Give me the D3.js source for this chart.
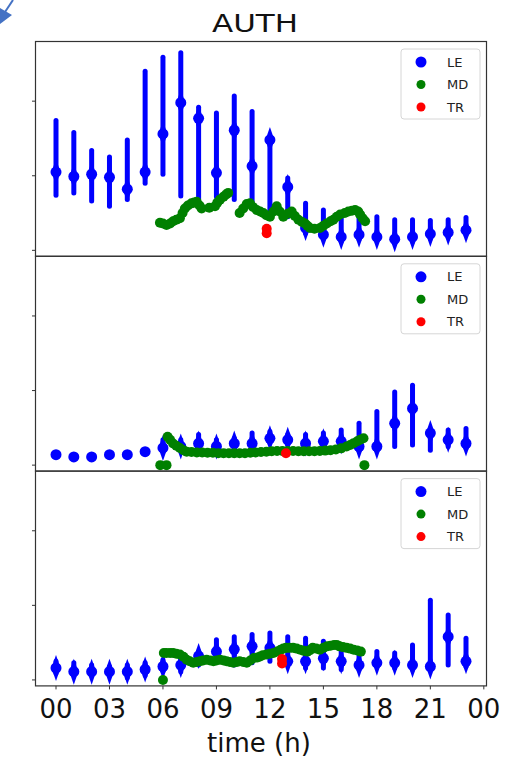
<!DOCTYPE html>
<html>
<head>
<meta charset="utf-8">
<script src="https://cdn.jsdelivr.net/npm/d3@7"></script>
<style>
body { margin: 0; background: #fff; }
svg { display: block; }
</style>
</head>
<body>
<svg id="chart"></svg>
<script>
var width = 525, height = 764;

var hours = d3.range(24);
var xTicks = [0, 3, 6, 9, 12, 15, 18, 21, 24];
var yTicks = [0, 100, 200];
var seriesNames = ['LE', 'MD', 'TR'];
var seriesColors = ['#0000ff', '#008000', '#ff0000'];

// LE spread per hour (low, high, central value), one set per panel
var leLo1 = [74, 77, 66, 59, 68, 90, 102, 73, 68, 72, 68, 59, 50, 45, 23, 16, 12, 15, 13, 10, 12, 16, 18, 21];
var leHi1 = [174, 158, 134, 125, 148, 240, 259, 265, 192, 184, 207, 186, 152, 97, 63, 54, 50, 45, 45, 41, 41, 40, 41, 44];
var leMid1 = [105, 99, 102, 98, 82, 105, 156, 198, 177, 104, 161, 113, 148, 85, 30, 21, 18, 21, 18, 15, 18, 22, 24, 27];

var leLo2 = [14, 11, 11, 14, 14, 18, 20, 22, 26, 22, 24, 25, 30, 28, 25, 25, 25, 20, 20, 25, 27, 20, 25, 23];
var leHi2 = [14, 11, 11, 14, 14, 18, 34, 34, 41, 34, 36, 43, 45, 41, 41, 43, 47, 56, 72, 98, 107, 47, 47, 49];
var leMid2 = [14, 11, 11, 14, 14, 18, 23, 25, 29, 25, 29, 29, 36, 34, 29, 32, 32, 25, 25, 56, 76, 43, 34, 29];

var leLo3 = [9, 8, 8, 7, 3, 6, 12, 11, 20, 25, 20, 23, 25, 20, 16, 16, 14, 14, 18, 16, 14, 14, 20, 18];
var leHi3 = [25, 23, 20, 18, 20, 23, 27, 34, 38, 54, 58, 61, 63, 58, 56, 52, 47, 34, 38, 36, 47, 107, 87, 56];
var leMid3 = [16, 11, 11, 11, 11, 14, 18, 20, 32, 38, 41, 45, 43, 25, 25, 29, 25, 20, 23, 23, 20, 18, 58, 25];

// MD points (time in hours, value)
var mdT1 = [5.83, 6.0, 6.2, 6.4, 6.57, 6.75, 6.95, 7.1, 7.23, 7.4, 7.6, 7.75, 7.89, 8.05, 8.17, 8.6, 8.92, 9.05, 9.2, 9.4, 9.55, 9.66,
            10.3, 10.5, 10.7, 10.88, 11.05, 11.26, 11.45, 11.63, 11.8, 12.0, 12.2, 12.38, 12.55, 12.75, 13.0, 13.22, 13.4, 13.6,
            13.8, 13.97, 14.1, 14.25, 14.5, 14.81, 15.0, 15.19, 15.4, 15.56, 15.75, 15.94, 16.2, 16.4, 16.6, 16.78, 16.95, 17.06, 17.2, 17.34];
var mdV1 = [37, 36, 34, 36, 39, 41, 43, 50, 56, 60, 63, 64, 65, 60, 56, 57, 59, 64, 68, 72, 75, 77,
            50, 56, 62, 63, 58, 54, 52, 50, 47, 45, 52, 59, 52, 45, 49, 52, 46, 41,
            38, 36, 33, 30, 29, 30, 33, 36, 39, 41, 45, 48, 50, 52, 53, 54, 52, 48, 43, 39];

var mdT2 = [5.85, 6.2, 17.3, 6.26, 6.4, 6.57, 6.75, 6.95, 7.15, 7.33, 7.6, 7.9, 8.2, 8.5, 8.8, 9.1, 9.4, 9.7, 10.0, 10.3, 10.6, 10.9,
            11.2, 11.5, 11.8, 12.1, 12.4, 12.7, 13.0, 13.3, 13.6, 13.9, 14.2, 14.5, 14.8, 15.1, 15.4, 15.7, 16.0, 16.3, 16.5, 16.7, 16.9, 17.06, 17.25];
var mdV2 = [0, 0, 0, 38, 34, 29, 26, 23, 20, 18, 17.5, 17, 17, 16.5, 16.5, 16, 16, 16, 16, 16, 16, 16.5,
            17, 17.5, 18, 18.5, 19, 19, 19, 19, 18.5, 18.5, 18.5, 18.5, 19, 19.5, 20, 21, 22.5, 25, 27, 29.5, 32, 34, 36];

var mdT3 = [6.0, 6.05, 6.2, 6.4, 6.57, 6.75, 6.95, 7.15, 7.33, 7.5, 7.7, 7.9, 8.08, 8.25, 8.45, 8.65, 8.83, 9.0, 9.2, 9.4, 9.57, 9.75,
            9.95, 10.15, 10.3, 10.5, 10.7, 10.9, 11.1, 11.3, 11.45, 11.6, 11.8, 12.0, 12.2, 12.4, 12.6, 12.75, 12.9, 13.1, 13.3,
            13.5, 13.7, 13.9, 14.1, 14.25, 14.4, 14.6, 14.8, 15.0, 15.2, 15.4, 15.6, 15.75, 15.9, 16.1, 16.3, 16.5, 16.7, 16.9, 17.1];
var mdV3 = [0, 36, 36, 36, 36, 35, 34, 31, 27, 25, 23, 24, 25, 26, 27, 26, 25, 26, 27, 26, 25, 24,
            23, 24, 25, 24, 23, 26, 29.5, 30, 31.5, 33, 34, 35, 36, 38, 40.5, 42, 43, 43, 43,
            42, 40.5, 39, 38, 40, 43, 42, 40.5, 43, 45, 46, 47, 47, 45, 44, 43, 42, 40.5, 39.5, 38];

// TR points
var trT1 = [11.82, 11.82];
var trV1 = [29, 23];
var trT2 = [12.9];
var trV2 = [16];
var trT3 = [12.68, 12.68];
var trV3 = [28, 22];

var panels = [
  {lo: leLo1, hi: leHi1, mid: leMid1, mdT: mdT1, mdV: mdV1, trT: trT1, trV: trV1},
  {lo: leLo2, hi: leHi2, mid: leMid2, mdT: mdT2, mdV: mdV2, trT: trT2, trV: trV2},
  {lo: leLo3, hi: leHi3, mid: leMid3, mdT: mdT3, mdV: mdV3, trT: trT3, trV: trV3}
];

var left = 35.5, right = 486.5, top0 = 41.5, panelH = 214.8;

var svg = d3.select('#chart')
    .attr('width', width)
    .attr('height', height)
    .style('font-family', '"DejaVu Sans", sans-serif');

// little blue arrow in the corner of the source picture
svg.append('line')
    .attr('x1', 13).attr('y1', 0).attr('x2', 5).attr('y2', 12)
    .attr('stroke', '#4472c4').attr('stroke-width', 2);
svg.append('path')
    .attr('d', 'M0,8 L12,15 L0,24 Z')
    .attr('fill', '#4472c4');

var x = d3.scaleLinear().domain([-1.15, 24.15]).range([left, right]);

svg.append('text')
    .attr('x', 255).attr('y', 32)
    .attr('text-anchor', 'middle')
    .attr('textLength', 86)
    .attr('lengthAdjust', 'spacingAndGlyphs')
    .style('font-size', '24px')
    .attr('fill', '#111')
    .text('AUTH');

panels.forEach(function(p, i) {
    var top = top0 + i * panelH;
    var y = d3.scaleLinear().domain([-8, 280]).range([top + panelH, top]);
    var g = svg.append('g');

    // LE columns
    g.selectAll('line.le')
        .data(hours)
        .enter()
        .append('line')
        .attr('class', 'le')
        .attr('x1', function(d) { return x(d); })
        .attr('x2', function(d) { return x(d); })
        .attr('y1', function(d) { return y(p.lo[d]); })
        .attr('y2', function(d) { return y(p.hi[d]); })
        .attr('stroke', seriesColors[0])
        .attr('stroke-width', 5)
        .attr('stroke-linecap', 'round');

    g.selectAll('path.le')
        .data(hours.filter(function(d) { return p.hi[d] - p.lo[d] > 4; }))
        .enter()
        .append('path')
        .attr('d', function(d) {
            var cx = x(d), cy = y(p.mid[d]);
            return 'M' + cx + ',' + (cy - 13) + ' L' + (cx + 4.5) + ',' + cy +
                ' L' + cx + ',' + (cy + 13) + ' L' + (cx - 4.5) + ',' + cy + ' Z';
        })
        .attr('fill', seriesColors[0]);

    g.selectAll('circle.le')
        .data(hours)
        .enter()
        .append('circle')
        .attr('class', 'le')
        .attr('cx', function(d) { return x(d); })
        .attr('cy', function(d) { return y(p.mid[d]); })
        .attr('r', 5.5)
        .attr('fill', seriesColors[0]);

    // MD points
    g.selectAll('circle.md')
        .data(p.mdT)
        .enter()
        .append('circle')
        .attr('cx', function(d) { return x(d); })
        .attr('cy', function(d, j) { return y(p.mdV[j]); })
        .attr('r', 5)
        .attr('fill', seriesColors[1]);

    // TR points
    g.selectAll('circle.tr')
        .data(p.trT)
        .enter()
        .append('circle')
        .attr('cx', function(d) { return x(d); })
        .attr('cy', function(d, j) { return y(p.trV[j]); })
        .attr('r', 5)
        .attr('fill', seriesColors[2]);

    // y ticks without labels
    g.selectAll('line.ytick')
        .data(yTicks)
        .enter()
        .append('line')
        .attr('x1', left - 3.5).attr('x2', left)
        .attr('y1', function(d) { return y(d); })
        .attr('y2', function(d) { return y(d); })
        .attr('stroke', '#333');

    // frame
    g.append('rect')
        .attr('x', left).attr('y', top)
        .attr('width', right - left).attr('height', panelH)
        .attr('fill', 'none')
        .attr('stroke', '#333')
        .attr('stroke-width', 1.2);

    // legend
    var lg = g.append('g').attr('transform', 'translate(401,' + (top + 7.5) + ')');
    lg.append('rect')
        .attr('width', 79).attr('height', 70)
        .attr('rx', 3)
        .attr('fill', 'rgba(255,255,255,0.8)')
        .attr('stroke', '#d6d6d6');
    seriesNames.forEach(function(name, k) {
        lg.append('circle')
            .attr('cx', 20).attr('cy', 13 + k * 22.5)
            .attr('r', k === 0 ? 5.5 : 4.5)
            .attr('fill', seriesColors[k]);
        lg.append('text')
            .attr('x', 46).attr('y', 13 + k * 22.5)
            .attr('dy', '0.36em')
            .style('font-size', '13px')
            .attr('fill', '#222')
            .text(name);
    });
});

// x axis on the bottom panel
var bottom = top0 + 3 * panelH;
svg.selectAll('line.xtick')
    .data(xTicks)
    .enter()
    .append('line')
    .attr('x1', function(d) { return x(d); })
    .attr('x2', function(d) { return x(d); })
    .attr('y1', bottom).attr('y2', bottom + 3.5)
    .attr('stroke', '#333');

svg.selectAll('text.xtick')
    .data(xTicks)
    .enter()
    .append('text')
    .attr('x', function(d) { return x(d); })
    .attr('y', 718)
    .attr('text-anchor', 'middle')
    .style('font-size', '26px')
    .attr('fill', '#111')
    .text(function(d) { return d3.format('02')(d % 24); });

svg.append('text')
    .attr('x', 259).attr('y', 752)
    .attr('text-anchor', 'middle')
    .style('font-size', '26px')
    .attr('fill', '#111')
    .text('time (h)');
</script>
</body>
</html>
